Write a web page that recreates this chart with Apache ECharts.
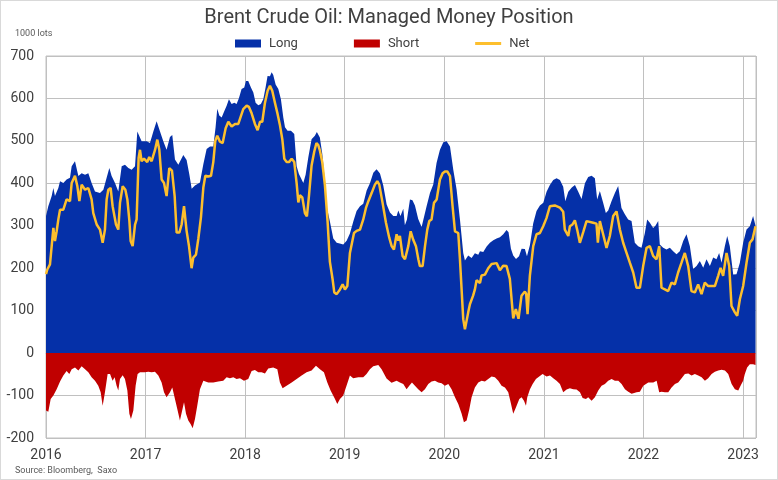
<!DOCTYPE html>
<html>
<head>
<meta charset="utf-8">
<script src="https://cdn.jsdelivr.net/npm/echarts@6/dist/echarts.min.js"></script>
<style>
html,body{margin:0;padding:0;background:#fff;}
#c{width:776px;height:478px;border:1px solid #d9d9d9;}
</style>
</head>
<body>
<div id="c"></div>
<script>
// Time expressed as decimal years
const xTicks = [2016, 2017, 2018, 2019, 2020, 2021, 2022, 2023];
const yTicks = [-200, -100, 0, 100, 200, 300, 400, 500, 600, 700];

const longYears = [2016.000,2016.023,2016.057,2016.074,2016.090,2016.124,2016.141,2016.174,2016.207,2016.241,2016.258,2016.291,2016.325,2016.358,2016.392,2016.425,2016.458,2016.492,2016.542,2016.576,2016.609,2016.636,2016.659,2016.693,2016.726,2016.760,2016.793,2016.827,2016.860,2016.894,2016.917,2016.937,2016.960,2017.011,2017.044,2017.078,2017.111,2017.145,2017.178,2017.211,2017.245,2017.268,2017.295,2017.329,2017.379,2017.412,2017.440,2017.463,2017.496,2017.546,2017.580,2017.613,2017.647,2017.680,2017.703,2017.720,2017.740,2017.764,2017.790,2017.814,2017.837,2017.864,2017.891,2017.914,2017.938,2017.964,2017.991,2018.008,2018.031,2018.058,2018.082,2018.105,2018.132,2018.158,2018.182,2018.205,2018.225,2018.249,2018.266,2018.282,2018.306,2018.333,2018.359,2018.383,2018.400,2018.426,2018.460,2018.493,2018.517,2018.540,2018.560,2018.584,2018.607,2018.634,2018.667,2018.700,2018.720,2018.750,2018.774,2018.795,2018.818,2018.851,2018.885,2018.919,2018.950,2018.985,2019.019,2019.052,2019.086,2019.119,2019.153,2019.186,2019.220,2019.253,2019.287,2019.320,2019.354,2019.387,2019.421,2019.454,2019.488,2019.521,2019.538,2019.560,2019.588,2019.604,2019.625,2019.655,2019.680,2019.705,2019.738,2019.772,2019.789,2019.822,2019.856,2019.889,2019.922,2019.956,2019.990,2020.023,2020.057,2020.090,2020.123,2020.140,2020.157,2020.190,2020.207,2020.240,2020.274,2020.307,2020.341,2020.358,2020.391,2020.425,2020.458,2020.492,2020.525,2020.558,2020.592,2020.625,2020.645,2020.669,2020.692,2020.720,2020.750,2020.776,2020.809,2020.830,2020.860,2020.893,2020.926,2020.960,2020.994,2021.027,2021.060,2021.094,2021.127,2021.161,2021.194,2021.215,2021.245,2021.280,2021.312,2021.345,2021.378,2021.412,2021.445,2021.479,2021.512,2021.535,2021.562,2021.595,2021.622,2021.646,2021.679,2021.713,2021.746,2021.779,2021.813,2021.846,2021.880,2021.913,2021.947,2021.980,2022.014,2022.037,2022.064,2022.097,2022.120,2022.148,2022.164,2022.198,2022.231,2022.265,2022.298,2022.332,2022.365,2022.399,2022.432,2022.466,2022.499,2022.533,2022.566,2022.600,2022.633,2022.667,2022.700,2022.733,2022.760,2022.784,2022.817,2022.841,2022.867,2022.901,2022.934,2022.968,2023.001,2023.035,2023.068,2023.101,2023.125];
const longValues = [323,346,370,389,370,389,405,401,409,413,440,452,417,424,420,424,401,381,377,385,413,436,417,401,381,440,444,436,432,440,522,518,499,499,495,522,546,522,499,479,509,514,456,444,467,455,420,387,395,402,445,481,487,487,532,576,560,555,570,583,598,587,590,587,601,622,626,641,641,626,614,590,584,587,598,626,653,652,662,655,633,622,598,555,532,524,524,516,440,422,418,401,420,461,504,512,521,508,470,420,346,310,270,260,258,256,265,282,310,335,346,352,383,400,425,433,423,395,350,331,323,323,336,323,340,301,315,362,360,348,316,297,299,346,377,397,448,479,497,499,487,432,386,390,315,236,218,230,224,235,232,240,238,251,260,266,270,273,280,290,285,246,230,222,228,246,245,228,255,306,335,348,354,380,396,408,412,408,392,358,380,390,396,380,363,400,415,418,412,362,382,354,330,336,358,377,394,342,327,315,311,260,252,248,283,315,307,295,300,311,256,248,244,248,240,233,240,264,280,252,198,205,217,201,221,205,225,221,236,213,252,276,252,185,186,213,260,291,299,323,300];

const shortYears = [2016.000,2016.023,2016.047,2016.074,2016.107,2016.141,2016.174,2016.207,2016.234,2016.258,2016.291,2016.325,2016.358,2016.392,2016.425,2016.458,2016.492,2016.525,2016.549,2016.569,2016.592,2016.619,2016.643,2016.669,2016.689,2016.709,2016.726,2016.743,2016.770,2016.793,2016.817,2016.837,2016.853,2016.877,2016.900,2016.920,2016.944,2016.994,2017.027,2017.061,2017.094,2017.128,2017.161,2017.185,2017.211,2017.245,2017.268,2017.295,2017.319,2017.345,2017.362,2017.386,2017.406,2017.429,2017.452,2017.473,2017.496,2017.519,2017.546,2017.580,2017.630,2017.680,2017.730,2017.780,2017.814,2017.847,2017.881,2017.914,2017.948,2017.988,2018.031,2018.065,2018.098,2018.132,2018.165,2018.199,2018.232,2018.282,2018.323,2018.349,2018.376,2018.416,2018.467,2018.517,2018.567,2018.617,2018.667,2018.711,2018.751,2018.791,2018.825,2018.858,2018.902,2018.925,2018.952,2018.985,2019.018,2019.052,2019.085,2019.136,2019.186,2019.219,2019.253,2019.286,2019.337,2019.370,2019.420,2019.470,2019.521,2019.554,2019.588,2019.621,2019.648,2019.675,2019.705,2019.738,2019.772,2019.805,2019.839,2019.872,2019.906,2019.939,2019.973,2020.006,2020.040,2020.073,2020.107,2020.140,2020.174,2020.197,2020.224,2020.251,2020.274,2020.307,2020.341,2020.374,2020.408,2020.441,2020.475,2020.508,2020.542,2020.575,2020.609,2020.642,2020.666,2020.692,2020.719,2020.753,2020.776,2020.800,2020.820,2020.833,2020.860,2020.887,2020.920,2020.953,2020.987,2021.027,2021.061,2021.094,2021.127,2021.161,2021.194,2021.228,2021.261,2021.295,2021.328,2021.362,2021.389,2021.422,2021.445,2021.479,2021.512,2021.546,2021.579,2021.613,2021.646,2021.680,2021.713,2021.747,2021.780,2021.814,2021.847,2021.881,2021.931,2021.964,2021.998,2022.048,2022.098,2022.132,2022.158,2022.182,2022.215,2022.249,2022.282,2022.316,2022.349,2022.383,2022.416,2022.450,2022.483,2022.516,2022.550,2022.584,2022.617,2022.650,2022.684,2022.717,2022.751,2022.784,2022.818,2022.851,2022.885,2022.918,2022.952,2022.975,2023.001,2023.018,2023.041,2023.068,2023.101,2023.125];
const shortValues = [-135,-138,-108,-100,-85,-67,-53,-42,-49,-38,-34,-41,-31,-38,-45,-57,-65,-77,-92,-124,-92,-49,-49,-65,-57,-77,-88,-61,-52,-61,-88,-143,-155,-135,-77,-49,-45,-45,-44,-45,-44,-53,-69,-92,-104,-92,-81,-108,-132,-159,-163,-116,-143,-159,-167,-177,-155,-124,-85,-65,-69,-69,-67,-65,-57,-59,-57,-61,-59,-65,-61,-42,-40,-45,-45,-48,-36,-34,-38,-69,-83,-77,-69,-61,-53,-45,-41,-30,-38,-45,-69,-88,-108,-120,-108,-100,-77,-53,-59,-57,-57,-49,-38,-31,-28,-38,-60,-70,-65,-69,-73,-85,-77,-69,-77,-85,-92,-85,-73,-67,-65,-69,-71,-77,-73,-85,-104,-120,-143,-163,-159,-132,-104,-81,-69,-65,-67,-61,-55,-57,-65,-77,-81,-92,-116,-143,-128,-108,-104,-112,-124,-104,-85,-73,-61,-55,-49,-55,-53,-59,-65,-73,-92,-86,-83,-85,-86,-92,-106,-108,-104,-112,-104,-88,-77,-73,-65,-61,-65,-65,-73,-85,-91,-96,-92,-91,-77,-69,-69,-65,-92,-91,-92,-92,-81,-73,-69,-59,-49,-48,-53,-49,-53,-57,-65,-59,-49,-44,-41,-39,-41,-49,-73,-85,-88,-77,-65,-49,-34,-26,-26,-28];

const netYears = [2016.000,2016.013,2016.040,2016.057,2016.074,2016.090,2016.107,2016.124,2016.141,2016.174,2016.207,2016.241,2016.258,2016.291,2016.315,2016.335,2016.358,2016.392,2016.425,2016.458,2016.475,2016.509,2016.542,2016.569,2016.592,2016.609,2016.626,2016.649,2016.669,2016.683,2016.703,2016.726,2016.743,2016.770,2016.797,2016.817,2016.837,2016.850,2016.870,2016.894,2016.910,2016.930,2016.944,2016.960,2016.984,2017.004,2017.017,2017.037,2017.061,2017.078,2017.094,2017.118,2017.138,2017.161,2017.185,2017.211,2017.238,2017.265,2017.292,2017.312,2017.339,2017.362,2017.386,2017.412,2017.436,2017.462,2017.479,2017.506,2017.530,2017.556,2017.580,2017.600,2017.630,2017.657,2017.680,2017.700,2017.720,2017.747,2017.774,2017.804,2017.831,2017.864,2017.898,2017.931,2017.958,2017.981,2018.015,2018.038,2018.065,2018.098,2018.125,2018.149,2018.172,2018.199,2018.226,2018.249,2018.272,2018.299,2018.326,2018.350,2018.373,2018.393,2018.417,2018.440,2018.467,2018.493,2018.517,2018.534,2018.550,2018.574,2018.600,2018.620,2018.641,2018.667,2018.694,2018.716,2018.734,2018.751,2018.774,2018.801,2018.828,2018.851,2018.878,2018.895,2018.919,2018.952,2018.979,2019.002,2019.026,2019.052,2019.069,2019.093,2019.119,2019.153,2019.186,2019.213,2019.237,2019.270,2019.303,2019.327,2019.347,2019.380,2019.414,2019.447,2019.471,2019.494,2019.521,2019.538,2019.554,2019.581,2019.605,2019.638,2019.662,2019.688,2019.715,2019.739,2019.755,2019.782,2019.806,2019.829,2019.849,2019.872,2019.896,2019.923,2019.956,2019.983,2020.006,2020.030,2020.057,2020.083,2020.107,2020.140,2020.157,2020.190,2020.207,2020.224,2020.240,2020.257,2020.290,2020.307,2020.324,2020.341,2020.358,2020.374,2020.408,2020.441,2020.475,2020.525,2020.558,2020.591,2020.625,2020.658,2020.692,2020.718,2020.745,2020.775,2020.809,2020.822,2020.836,2020.859,2020.893,2020.926,2020.960,2020.993,2021.026,2021.060,2021.110,2021.160,2021.194,2021.210,2021.245,2021.261,2021.287,2021.311,2021.334,2021.361,2021.395,2021.428,2021.495,2021.528,2021.542,2021.562,2021.595,2021.629,2021.662,2021.696,2021.729,2021.763,2021.796,2021.830,2021.863,2021.897,2021.930,2021.964,2021.997,2022.031,2022.064,2022.097,2022.131,2022.158,2022.181,2022.215,2022.248,2022.281,2022.315,2022.348,2022.382,2022.415,2022.449,2022.482,2022.516,2022.549,2022.583,2022.616,2022.650,2022.717,2022.750,2022.774,2022.800,2022.834,2022.861,2022.884,2022.918,2022.941,2022.968,2023.001,2023.035,2023.068,2023.095,2023.125];
const netValues = [186,197,209,252,295,264,287,315,338,338,362,358,401,418,393,358,397,385,389,362,330,303,291,260,291,362,385,389,346,350,303,291,354,393,385,362,313,264,252,303,315,460,479,452,458,458,450,462,452,466,478,503,479,409,401,370,436,430,370,284,284,303,346,288,252,200,225,232,270,320,390,418,416,418,450,500,512,498,495,530,545,534,540,540,559,575,583,580,565,540,525,545,545,590,618,630,618,590,563,536,504,458,450,450,458,450,400,355,372,367,330,322,371,442,475,495,490,477,450,395,309,215,174,143,139,150,162,150,158,236,233,283,288,291,315,342,358,377,397,405,397,354,307,272,252,244,280,265,276,229,221,252,287,267,252,221,205,205,252,291,311,315,354,362,409,424,428,428,417,346,287,283,221,80,56,56,96,115,136,150,172,170,165,183,185,200,210,212,195,206,205,175,82,104,81,135,145,140,92,182,252,280,283,299,318,346,348,343,333,291,276,299,303,313,291,260,285,311,307,305,260,311,280,248,276,323,334,291,260,236,213,190,154,154,205,248,252,229,221,252,154,150,146,166,162,190,213,236,205,146,143,162,139,166,158,158,182,201,182,236,205,111,96,88,127,158,213,260,268,299];

const seriesNames = ['Long', 'Short', 'Net'];
const toPairs = (xs, ys) => xs.map((x, i) => [x, ys[i]]);

const chart = echarts.init(document.getElementById('c'), null, {renderer: 'canvas'});
const textColor = '#404040';
const gridColor = '#c0c0c0';
chart.setOption({
  animation: false,
  backgroundColor: '#fff',
  title: [
    {text: 'Brent Crude Oil: Managed Money Position', left: 'center', top: 2,
     textStyle: {fontFamily: 'Roboto', fontSize: 20, fontWeight: 'normal', color: textColor}},
    {text: '1000 lots', left: 9, top: 23,
     textStyle: {fontFamily: 'Roboto', fontSize: 9, fontWeight: 'normal', color: '#595959'}},
    {text: 'Source: Bloomberg,  Saxo', left: 9, top: 460,
     textStyle: {fontFamily: 'Roboto', fontSize: 9, fontWeight: 'normal', color: '#595959'}}
  ],
  legend: {
    top: 31, left: 229, itemGap: 56, itemWidth: 26, itemHeight: 8,
    textStyle: {fontFamily: 'Roboto', fontSize: 13, color: textColor, padding: [0, 0, 0, 3]},
    data: [
      {name: seriesNames[0], icon: 'rect'},
      {name: seriesNames[1], icon: 'rect'},
      {name: seriesNames[2], icon: 'path://M0,0 L26,0 L26,3 L0,3 Z'}
    ]
  },
  grid: {left: 45, right: 21, top: 55, bottom: 41, show: true, borderColor: gridColor, borderWidth: 1},
  xAxis: {
    type: 'value', min: xTicks[0], max: 2023.13, interval: 1,
    axisLine: {show: true, lineStyle: {color: gridColor}},
    axisTick: {show: false},
    splitLine: {show: true, lineStyle: {color: gridColor}},
    axisLabel: {
      fontFamily: 'Roboto', fontSize: 14, color: textColor, margin: 10,
      formatter: v => (xTicks.indexOf(Math.round(v * 1000) / 1000) >= 0 ? String(v) : '')
    }
  },
  yAxis: {
    type: 'value', min: yTicks[0], max: yTicks[yTicks.length - 1], interval: 100,
    axisLine: {show: false}, axisTick: {show: false},
    splitLine: {show: true, lineStyle: {color: gridColor}},
    axisLabel: {fontFamily: 'Roboto', fontSize: 14, color: textColor, margin: 12}
  },
  series: [
    {name: seriesNames[0], type: 'line', data: toPairs(longYears, longValues), symbol: 'none',
     color: '#0530a8', lineStyle: {width: 0}, areaStyle: {color: '#0530a8', opacity: 1}},
    {name: seriesNames[1], type: 'line', data: toPairs(shortYears, shortValues), symbol: 'none',
     color: '#c00000', lineStyle: {width: 0}, areaStyle: {color: '#c00000', opacity: 1}},
    {name: seriesNames[2], type: 'line', data: toPairs(netYears, netValues), symbol: 'none',
     color: '#fdbf2d', lineStyle: {width: 2.5, color: '#fdbf2d'}}
  ]
});
</script>
</body>
</html>
